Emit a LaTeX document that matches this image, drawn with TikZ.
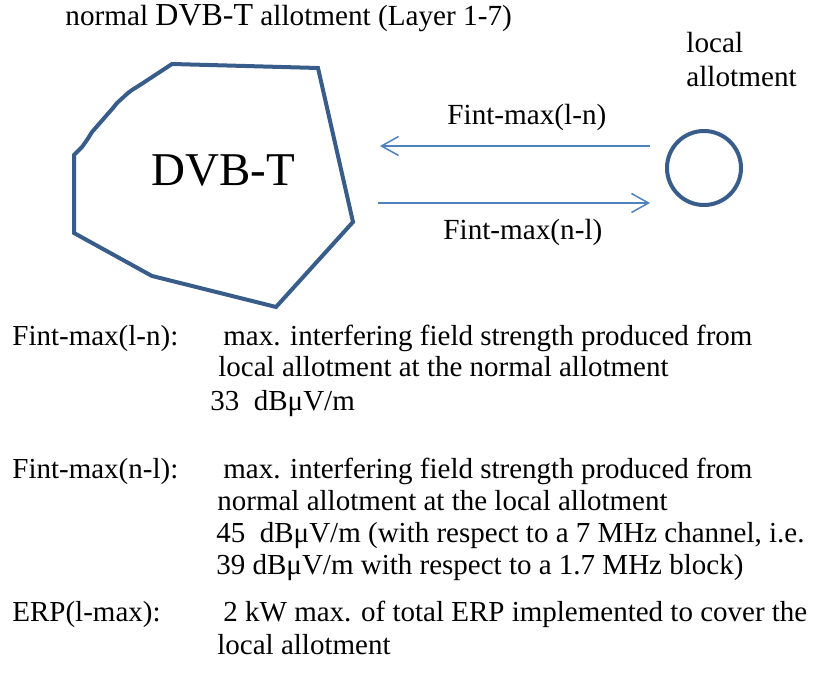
\documentclass[tikz,border=0pt]{standalone}
\usepackage{fontspec}
\setmainfont{Liberation Serif}
\usetikzlibrary{arrows.meta}
\definecolor{areablue}{RGB}{56,93,138}
\definecolor{arrowblue}{RGB}{79,129,189}
\tikzset{
  txt/.style={anchor=base west, inner sep=0pt, font=\fontsize{14.5}{16}\selectfont},
  lbl/.style={anchor=base west, inner sep=0pt, font=\fontsize{14.6}{16}\selectfont},
  flow/.style={draw=arrowblue, line width=0.75pt, -{Straight Barb[length=8.5pt,width=9.5pt]}},
  area/.style={draw=areablue, line width=2pt},
}
\begin{document}
\begin{tikzpicture}[x=0.5pt,y=-0.5pt]
	\useasboundingbox (0,0) rectangle (814,684);
	% allotments
	\draw [area] (172,64) -- (318,68) -- (353,222) -- (276,307) -- (152,276) -- (74,233) -- (74,155) -- (82,147) -- (87,140) -- (92,132) -- (113,108) -- (117,103) -- (128,93) -- (132,90) -- (140,85) -- cycle;
	\node (DVB) [anchor=base west, inner sep=0pt, font=\fontsize{23.5}{26}\selectfont] at (151,186) {DVB-T};
	\node (local) [area, circle, minimum size=37pt, inner sep=0pt] at (704,168) {};
	\node (title) [lbl] at (65,26) {normal {\fontsize{16}{17}\selectfont DVB-T} allotment (Layer 1-7)};
	\node (localT) [lbl] at (686,53) {local};
	\node (localB) [lbl] at (686,87) {allotment};
	% interference arrows
	\coordinate (ln-start) at (650,146);
	\coordinate (ln-end) at (380,146);
	\coordinate (nl-start) at (378,203);
	\coordinate (nl-end) at (650,203);
	\draw [flow] (ln-start) -- (ln-end);
	\draw [flow] (nl-start) -- (nl-end);
	\node (lnlab) [lbl] at (447,125) {Fint-max(l-n)};
	\node (nllab) [lbl] at (443,240) {Fint-max(n-l)};
	% legend
	\node (k1) [txt] at (12,345) {Fint-max(l-n):};
	\node (v11) [txt] at (223,345) {max. interfering field strength produced from};
	\node (v12) [txt] at (218,377) {local allotment at the normal allotment};
	\node (v13) [txt] at (210,410) {33\ \ dBμV/m};
	\node (k2) [txt] at (12,478) {Fint-max(n-l):};
	\node (v21) [txt] at (223,478) {max. interfering field strength produced from};
	\node (v22) [txt] at (217,510) {normal allotment at the local allotment};
	\node (v23) [txt] at (216,542) {45\ \ dBμV/m (with respect to a 7 MHz channel, i.e.};
	\node (v24) [txt] at (216,574) {39 dBμV/m with respect to a 1.7 MHz block)};
	\node (k3) [txt] at (12,621) {ERP(l-max):};
	\node (v31) [txt] at (223,621) {2 kW max. of total ERP implemented to cover the};
	\node (v32) [txt] at (217,654) {local allotment};
\end{tikzpicture}
\end{document}
